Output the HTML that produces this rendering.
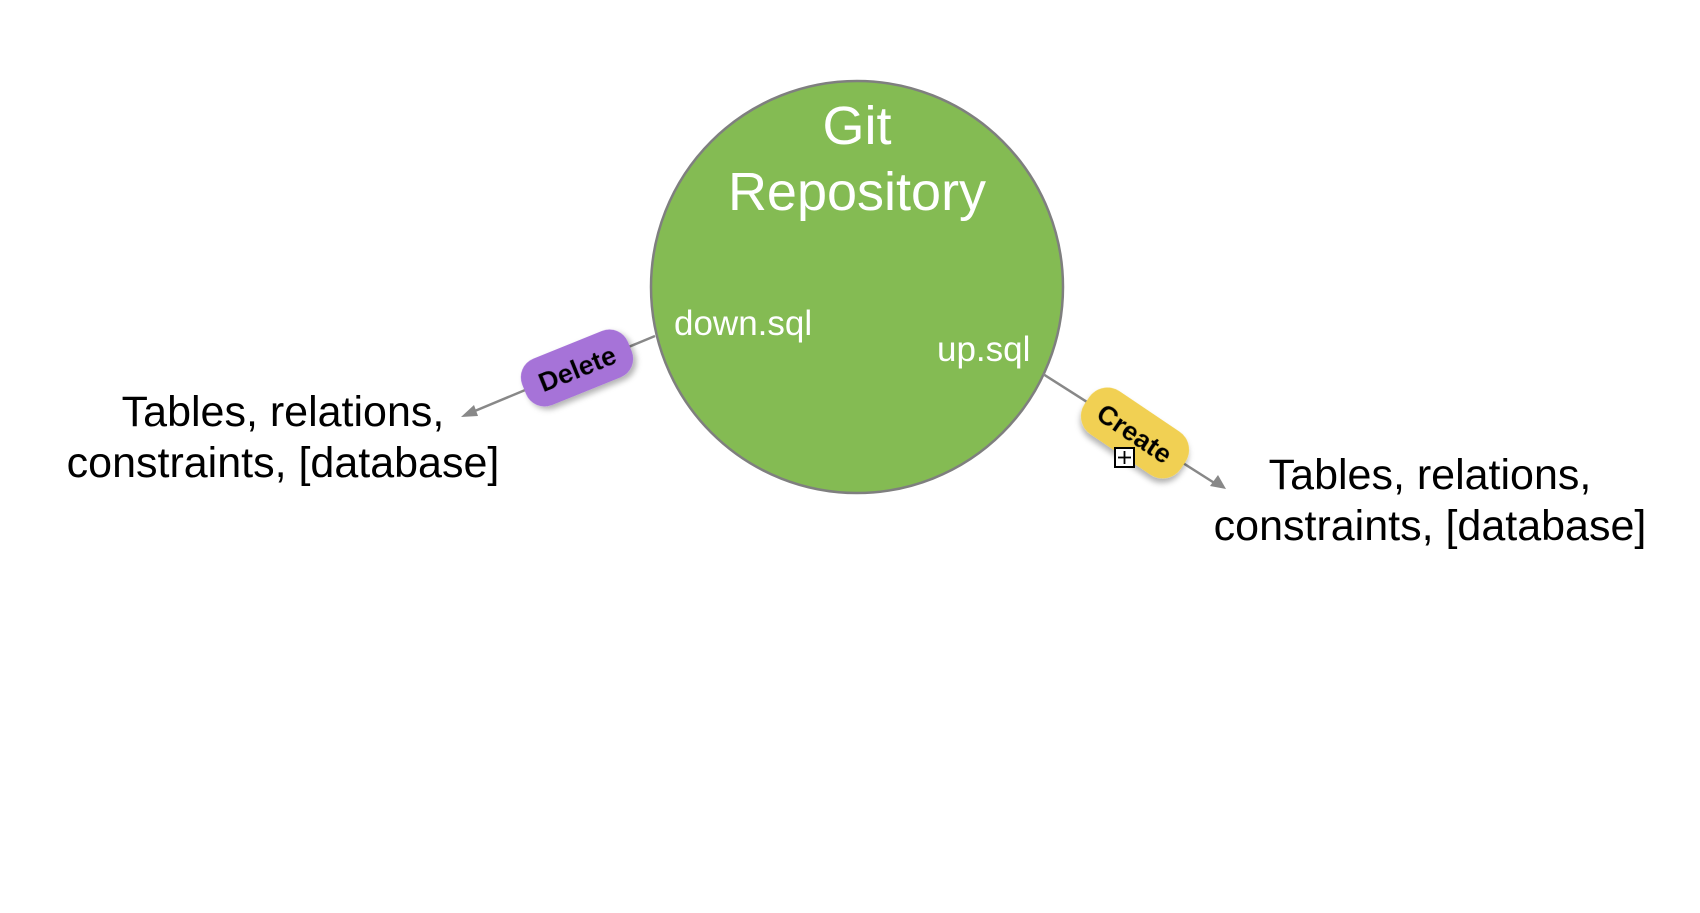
<!DOCTYPE html>
<html><head><style>
body{margin:0;background:#fff;}
svg text{font-family:"Liberation Sans",sans-serif;}
</style></head><body>
<svg width="1700" height="908" viewBox="0 0 1700 908" xmlns="http://www.w3.org/2000/svg">
<defs>
<filter id="sh" x="-20%" y="-20%" width="140%" height="160%"><feDropShadow dx="2" dy="4" stdDeviation="3" flood-color="#000" flood-opacity="0.3"/></filter>
</defs>
<circle cx="857" cy="287" r="206" fill="#84bb53" stroke="#7f7f7f" stroke-width="2.5"/>
<text x="857" y="144" font-size="54" fill="#fff" text-anchor="middle">Git</text>
<text x="857" y="210" font-size="54" fill="#fff" text-anchor="middle">Repository</text>
<text x="674" y="335" font-size="35" fill="#fff">down.sql</text>
<text x="937" y="361" font-size="35" fill="#fff">up.sql</text>
<!-- delete connector -->
<line x1="655" y1="336" x2="470" y2="413" stroke="#888" stroke-width="2.5"/>
<polygon points="461,417 474,405 478,416" fill="#888"/>
<g transform="translate(577,368) rotate(-22)" filter="url(#sh)">
<rect x="-57" y="-25" width="114" height="50" rx="20" fill="#a673d8"/>
<text x="0" y="10" font-size="27" font-weight="bold" text-anchor="middle" fill="#000">Delete</text>
</g>
<!-- create connector -->
<line x1="1043" y1="374" x2="1216" y2="484" stroke="#888" stroke-width="2.5"/>
<polygon points="1226,489 1210,486 1218,475" fill="#888"/>
<g transform="translate(1135,433) rotate(34)" filter="url(#sh)">
<rect x="-58" y="-26" width="116" height="52" rx="22" fill="#f1d052"/>
<text x="0" y="10" font-size="27" font-weight="bold" text-anchor="middle" fill="#000">Create</text>
</g>
<rect x="1115" y="448" width="19" height="19" fill="#fff" stroke="#000" stroke-width="2"/>
<line x1="1118" y1="457.5" x2="1131" y2="457.5" stroke="#000" stroke-width="1.8"/>
<line x1="1124.5" y1="451" x2="1124.5" y2="464" stroke="#000" stroke-width="1.8"/>
<text x="283" y="426" font-size="43" fill="#000" text-anchor="middle">Tables, relations,</text>
<text x="283" y="477" font-size="43" fill="#000" text-anchor="middle">constraints, [database]</text>
<text x="1430" y="489" font-size="43" fill="#000" text-anchor="middle">Tables, relations,</text>
<text x="1430" y="540" font-size="43" fill="#000" text-anchor="middle">constraints, [database]</text>
</svg>
</body></html>
